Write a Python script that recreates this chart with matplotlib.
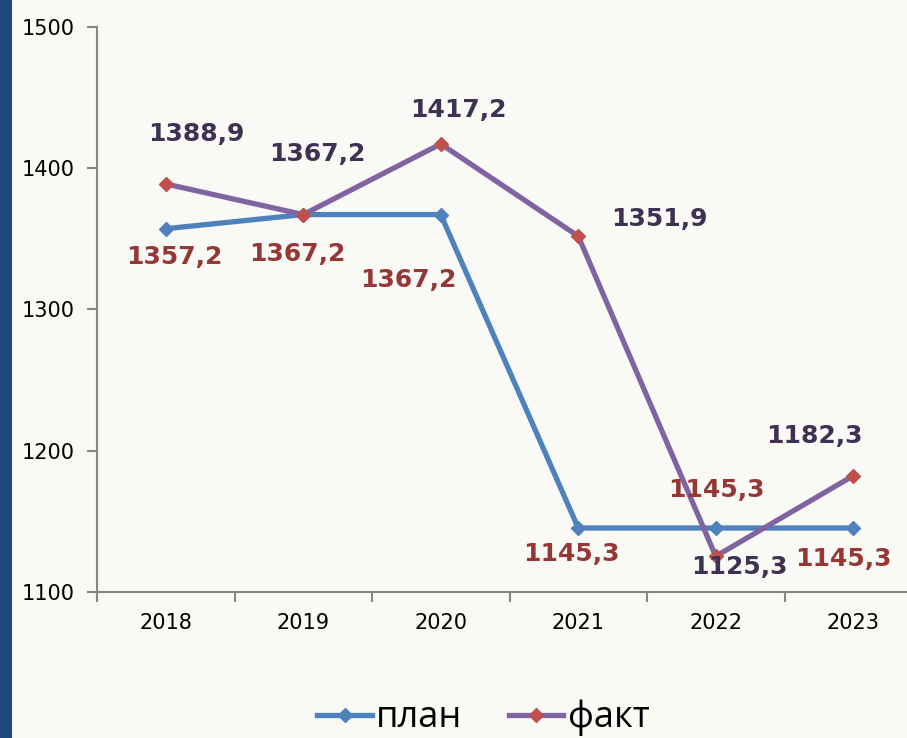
import matplotlib.pyplot as plt
from matplotlib.patches import Rectangle

years = ["2018", "2019", "2020", "2021", "2022", "2023"]
plan = [1357.2, 1367.2, 1367.2, 1145.3, 1145.3, 1145.3]
fact = [1388.9, 1367.2, 1417.2, 1351.9, 1125.3, 1182.3]

# label offsets in pixels (dx, dy), dy positive = up
plan_offsets = [(9, -28), (-6, -39), (-32, -65), (-7, -26), (1, 38), (-10, -31)]
fact_offsets = [(31, 50), (14, 61), (18, 34), (81, 17), (24, -11), (-39, 40)]

bg = "#f9f9f6"
fig = plt.figure(figsize=(9.07, 7.38), dpi=100, facecolor=bg)
fig.patches.append(Rectangle((0, 0), 12 / 907, 1, transform=fig.transFigure,
                             facecolor="#1f497d", edgecolor="none", zorder=0))

W, H = 907, 738
ax = fig.add_axes([97 / W, 1 - 592 / H, (907 - 97) / W, (592 - 27) / H])
ax.set_facecolor(bg)

x = list(range(len(years)))
ax.plot(x, plan, color="#4f81bd", lw=3.8, marker="D", ms=7,
        mfc="#4f81bd", mec="#4f81bd", label="план", zorder=3)
ax.plot(x, fact, color="#8064a2", lw=3.8, marker="D", ms=7,
        mfc="#c0504d", mec="#c0504d", label="факт", zorder=4)

for i, v in enumerate(plan):
    ax.annotate(f"{v:.1f}".replace(".", ","), (i, v), xytext=plan_offsets[i],
                textcoords="offset pixels", ha="center", va="center",
                fontsize=18, fontweight="bold", color="#953735", zorder=5)
for i, v in enumerate(fact):
    ax.annotate(f"{v:.1f}".replace(".", ","), (i, v), xytext=fact_offsets[i],
                textcoords="offset pixels", ha="center", va="center",
                fontsize=18, fontweight="bold", color="#3f3151", zorder=5)

ax.set_yticks([1100, 1200, 1300, 1400, 1500])
ax.set_ylim(1100, 1500)
ax.set_xticks([i - 0.5 for i in range(7)])
ax.set_xticklabels([])
ax.set_xticks(x, minor=True)
ax.set_xticklabels(years, minor=True)
ax.set_xlim(-0.5, -0.5 + (907 - 97) / 137.5)

for s in ["top", "right"]:
    ax.spines[s].set_visible(False)
for s in ["left", "bottom"]:
    ax.spines[s].set_color("#868686")
    ax.spines[s].set_linewidth(1.5)

ax.tick_params(axis="both", which="major", direction="out", length=7,
               width=1.5, color="#868686", labelsize=15, labelcolor="black")
ax.tick_params(axis="y", pad=9)
ax.tick_params(axis="x", which="minor", length=0, labelsize=15, pad=15)

fig.legend(loc="center", bbox_to_anchor=(0.533, 1 - 718 / H), ncol=2, frameon=False,
           prop={"family": "Open Sans", "size": 26}, handlelength=1.5,
           columnspacing=1.3, handletextpad=0.12)

fig.savefig("out.png", dpi=100, facecolor=bg)
